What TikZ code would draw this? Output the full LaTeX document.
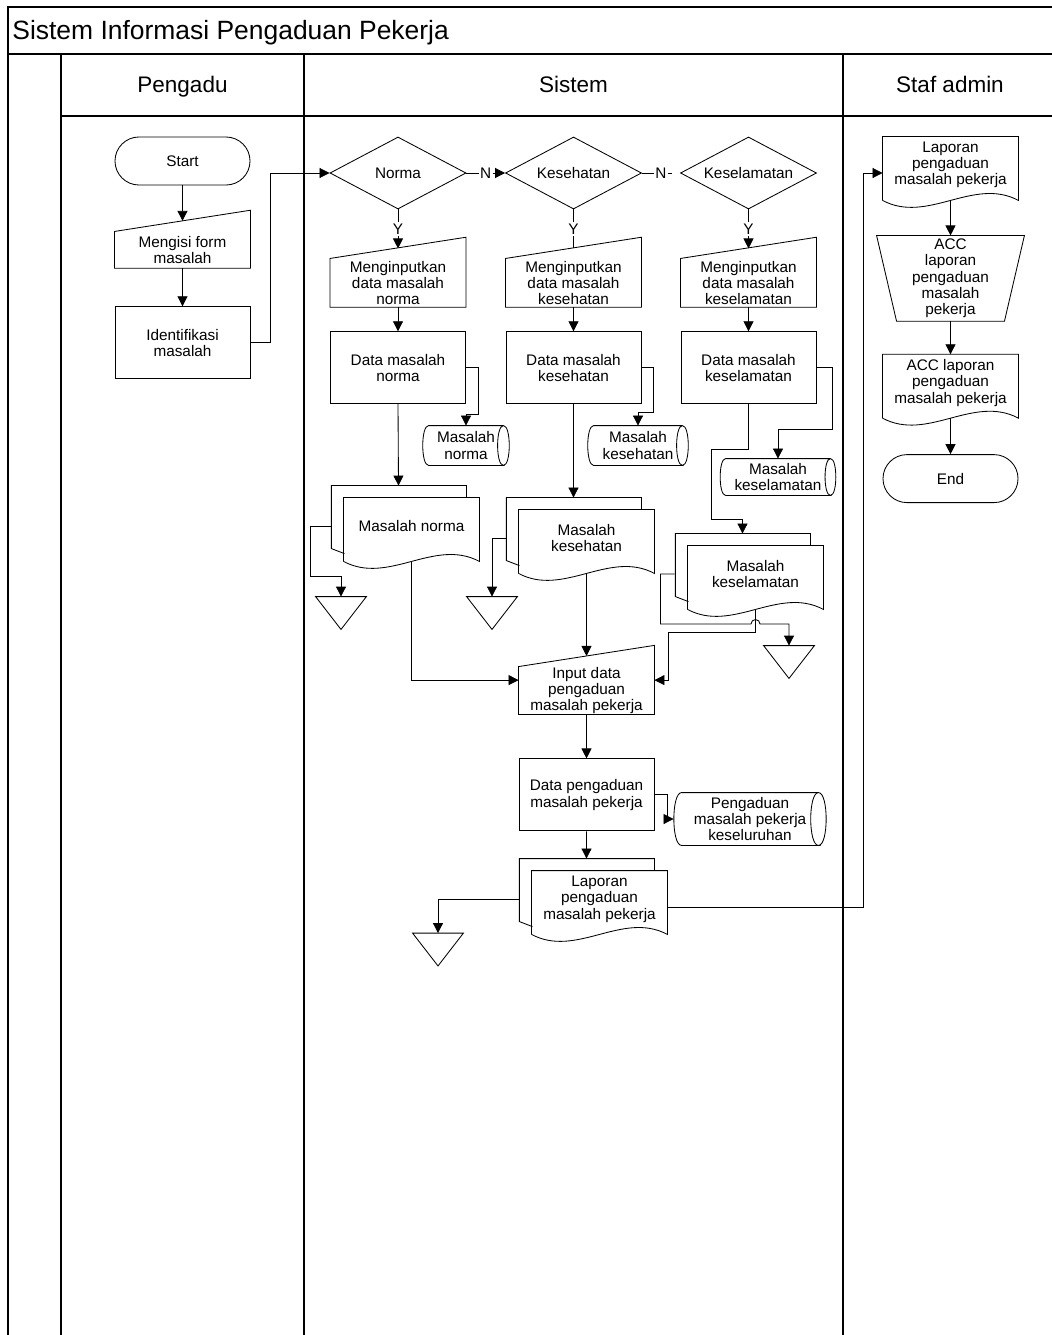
\documentclass[tikz,border=0pt]{standalone}
\usepackage{fontspec}
\setmainfont{Liberation Sans}
\usetikzlibrary{positioning}
\usetikzlibrary{shapes.geometric}
\usetikzlibrary{arrows.meta}

\begin{document}
\begin{tikzpicture}[x=0.025cm, y=-0.025cm, line width=0.6pt,
                      >={Triangle[length=0.25cm, width=0.25cm]},
                      every node/.style={font=\fontsize{10.9}{11.6}\selectfont},
                      lane/.style={line width=1.3pt},
                      lanetitle/.style={anchor=base, font=\fontsize{16}{18}\selectfont},
                      lbl/.style={fill=white, inner sep=1pt},
                      terminalnode/.style={rectangle, draw, rounded corners=0.6cm, minimum width=3.375cm, minimum height=1.2cm},
                      processnode/.style={rectangle, draw, minimum width=3.375cm, minimum height=1.8cm, align=center},
                      decisionnode/.style={diamond, draw, aspect=1.9, minimum width=3.4cm, minimum height=1.8cm, inner sep=0pt},
                      inputnode/.style={rectangle, minimum width=3.375cm, inner sep=0pt, align=center,
                          append after command={\pgfextra{\draw (\tikzlastnode.south west) -- (\tikzlastnode.south east) -- ([yshift=0.53cm]\tikzlastnode.north east) -- (\tikzlastnode.north west) -- cycle;}}},
                      docnode/.style={rectangle, minimum width=3.375cm, minimum height=1.4cm, inner sep=0pt, align=center,
                          append after command={\pgfextra{\draw ([yshift=-0.175cm]\tikzlastnode.south west) -- (\tikzlastnode.north west) -- (\tikzlastnode.north east) -- ([yshift=-0.175cm]\tikzlastnode.south east) .. controls +(-1.125cm,0.6cm) and +(1.125cm,-0.6cm) .. ([yshift=-0.175cm]\tikzlastnode.south west);}}},
                      multidocnode/.style={docnode,
                          append after command={\pgfextra{\draw ([xshift=-0.325cm]\tikzlastnode.north east) -- ++(0cm,0.3cm) -- ++(-3.375cm,0cm) -- ++(0cm,-1.575cm) -- ++(0.325cm,-0.125cm);}}},
                      storagenode/.style={rectangle, inner sep=0pt, align=center,
                          append after command={\pgfextra{\draw (\tikzlastnode.north east) -- (\tikzlastnode.north west) to[out=180, in=180, looseness=0.5] (\tikzlastnode.south west) -- (\tikzlastnode.south east) to[out=180, in=180, looseness=0.5] (\tikzlastnode.north east) to[out=0, in=0, looseness=0.5] (\tikzlastnode.south east);}}},
                      offpagenode/.style={rectangle, minimum width=1.25cm, minimum height=0.8cm,
                          append after command={\pgfextra{\draw (\tikzlastnode.north west) -- (\tikzlastnode.north east) -- (\tikzlastnode.south) -- cycle;}}},
                      manualopnode/.style={rectangle, minimum width=3.675cm, minimum height=2.125cm, inner sep=0pt, align=center,
                          append after command={\pgfextra{\draw (\tikzlastnode.north west) -- (\tikzlastnode.north east) -- ([xshift=-0.5cm]\tikzlastnode.south east) -- ([xshift=0.5cm]\tikzlastnode.south west) -- cycle;}}},
                  ]
                  \useasboundingbox (0,0) rectangle (1052,1335);

                  %Lanes
                  \draw[lane] (8,1335) -- (8,7) -- (1052,7);
                  \draw[lane] (8,54) -- (1052,54);
                  \draw[lane] (61,116) -- (1052,116);
                  \draw[lane] (61,54) -- (61,1335);
                  \draw[lane] (304,54) -- (304,1335);
                  \draw[lane] (843,54) -- (843,1335);
                  \node[anchor=base west, inner sep=0pt, font=\fontsize{18.8}{22}\selectfont] (title) at (12,39) {Sistem Informasi Pengaduan Pekerja};
                  \node[lanetitle] (pengadu) at (182.5,92) {Pengadu};
                  \node[lanetitle] (sistem) at (573.5,92) {Sistem};
                  \node[lanetitle] (staf) at (950,92) {Staf admin};

                  %Nodes
                  \node[terminalnode]   (start)    at (182.5,161)              {Start};
                  \node[inputnode, minimum height=0.9cm] (mengisi) [below=1.15cm of start] {Mengisi form\\masalah};
                  \node[processnode]    (ident)    [below=0.95cm of mengisi]   {Identifikasi\\masalah};

                  \node[decisionnode]   (norma)        at (398,173)            {Norma};
                  \node[decisionnode]   (kesehatan)    at (573.5,173)          {Kesehatan};
                  \node[decisionnode]   (keselamatan)  at (748.5,173)          {Keselamatan};
                  \node[inputnode, minimum height=1.2cm] (inNorma) [below=1.225cm of norma] {Menginputkan\\data masalah\\norma};
                  \node[inputnode, minimum height=1.2cm] (inKes)   [below=1.225cm of kesehatan] {Menginputkan\\data masalah\\kesehatan};
                  \node[inputnode, minimum height=1.2cm] (inKesel) [below=1.225cm of keselamatan] {Menginputkan\\data masalah\\keselamatan};
                  \node[processnode]    (dataNorma)  [below=0.6cm of inNorma]  {Data masalah\\norma};
                  \node[processnode]    (dataKes)    [below=0.6cm of inKes]    {Data masalah\\kesehatan};
                  \node[processnode]    (dataKesel)  [below=0.6cm of inKesel]  {Data masalah\\keselamatan};

                  \node[storagenode, minimum width=1.85cm, minimum height=0.975cm] (sNorma) at (466,445.5) {Masalah\\norma};
                  \node[storagenode, minimum width=2.2cm, minimum height=0.975cm]  (sKes)   at (638,445.5) {Masalah\\kesehatan};
                  \node[storagenode, minimum width=2.6cm, minimum height=0.9cm]    (sKesel) at (778,477)   {Masalah\\keselamatan};

                  \node[multidocnode]   (mNorma)   at (411.5,526)   {Masalah norma};
                  \node[multidocnode]   (mKes)     at (586.5,538)   {Masalah\\kesehatan};
                  \node[multidocnode]   (mKesel)   at (755.5,574)   {Masalah\\keselamatan};
                  \node[offpagenode]    (offNorma) at (341,613)     {};
                  \node[offpagenode]    (offKes)   at (492,613)     {};
                  \node[offpagenode]    (offKesel) at (789,662)     {};
                  \coordinate (hop) at (755.5,624);

                  \node[inputnode, minimum height=1.175cm] (inData) at (586.5,690.5) {Input data\\pengaduan\\masalah pekerja};
                  \node[processnode]    (dataAdu)  [below=1.1cm of inData]   {Data pengaduan\\masalah pekerja};
                  \node[storagenode, minimum width=3.4cm, minimum height=1.3cm] (sAdu) at (750,819) {Pengaduan\\masalah pekerja\\keseluruhan};
                  \node[multidocnode]   (lapMulti) at (599.5,899)   {Laporan\\pengaduan\\masalah pekerja};
                  \node[offpagenode]    (offLap)   at (438,949.5)   {};

                  \node[docnode]        (lap)      at (950.5,165)              {Laporan\\pengaduan\\masalah pekerja};
                  \node[manualopnode]   (acc)      [below=1.05cm of lap]       {ACC\\laporan\\pengaduan\\masalah\\pekerja};
                  \node[docnode]        (accDoc)   [below=0.825cm of acc]      {ACC laporan\\pengaduan\\masalah pekerja};
                  \node[terminalnode]   (end)      [below=1.075cm of accDoc]   {End};

                  %Lines
                  \draw[->] (start.south) -- ([yshift=0.265cm]mengisi.north);
                  \draw[->] (mengisi.south) -- (ident.north);
                  \draw[->] (ident.east) -- ++(20,0) |- (norma.west);
                  \draw[->] (norma.east) -- node[lbl] {N} (kesehatan.west);
                  \draw[shorten >=0.2cm] (kesehatan.east) -- node[lbl] {N} (keselamatan.west);
                  \draw[->] (norma.south) -- node[lbl] {Y} ([yshift=0.25cm]inNorma.north);
                  \draw (kesehatan.south) -- node[lbl] {Y} ([yshift=0.25cm]inKes.north);
                  \draw[->] (keselamatan.south) -- node[lbl] {Y} ([yshift=0.25cm]inKesel.north);
                  \draw[->] (inNorma.south) -- (dataNorma.north);
                  \draw[->] (inKes.south) -- (dataKes.north);
                  \draw[->] (inKesel.south) -- (dataKesel.north);

                  \draw[->] (dataNorma.east) -- ++(12,0) |- ([yshift=0.275cm]sNorma.north) -- (sNorma.north);
                  \draw[->] (dataKes.east) -- ++(12,0) |- ([yshift=0.325cm]sKes.north) -- (sKes.north);
                  \draw[->] (dataKesel.east) -- ++(16,0) |- ([yshift=0.725cm]sKesel.north) -- (sKesel.north);

                  \draw[->] (dataNorma.south) -- ([xshift=-0.325cm, yshift=0.3cm]mNorma.north);
                  \draw[->] (dataKes.south) -- ([xshift=-0.325cm, yshift=0.3cm]mKes.north);
                  \draw[->] (dataKesel.south) -- ++(0,45) -- ++(-37.5,0) -- ++(0,70) -| ([xshift=-0.325cm, yshift=0.3cm]mKesel.north);

                  \draw[->] ([xshift=-0.325cm]mNorma.west) -- ++(-20,0) |- ([yshift=0.5cm]offNorma.north) -- (offNorma.north);
                  \draw[->] ([xshift=-0.325cm]mKes.west) -| (offKes.north);
                  \draw[->] ([xshift=-0.325cm]mKesel.west) -- ++(-14,0) |- ([xshift=-0.1125cm]hop) arc[start angle=180, end angle=0, radius=0.1125cm] -| (offKesel.north);

                  \draw[->] ([yshift=-0.175cm]mNorma.south) |- ([yshift=0.26cm]inData.west);
                  \draw[->] ([yshift=-0.175cm]mKes.south) -- ([yshift=0.265cm]inData.north);
                  \draw[->] ([yshift=-0.175cm]mKesel.south) -- ++(0,23) -- ++(-87.5,0) |- ([yshift=0.26cm]inData.east);

                  \draw[->] (inData.south) -- (dataAdu.north);
                  \draw[->] (dataAdu.east) -- ++(13,0) |- ([xshift=-0.2cm]sAdu.west);
                  \draw[->] (dataAdu.south) -- ([xshift=-0.325cm, yshift=0.3cm]lapMulti.north);
                  \draw[->] ([xshift=-0.325cm]lapMulti.west) -| (offLap.north);
                  \draw[->] ([yshift=-0.2cm]lapMulti.east) -- ++(196,0) |- ([yshift=-0.2cm]lap.west);

                  \draw[->] ([yshift=-0.175cm]lap.south) -- (acc.north);
                  \draw[->] (acc.south) -- (accDoc.north);
                  \draw[->] ([yshift=-0.175cm]accDoc.south) -- (end.north);
              \end{tikzpicture}
\end{document}
